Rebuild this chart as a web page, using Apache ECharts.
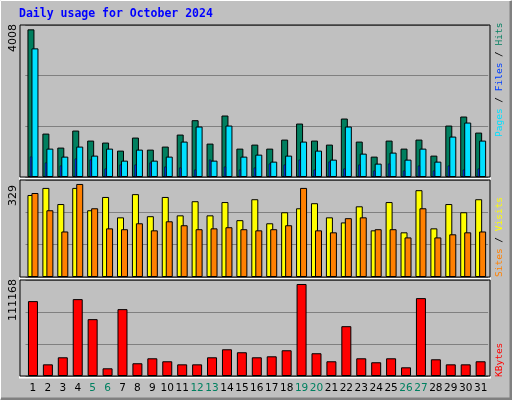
<!DOCTYPE html><html><head><meta charset="utf-8">
<script src="https://cdn.jsdelivr.net/npm/echarts@6/dist/echarts.min.js"></script>
<style>html,body{margin:0;padding:0;background:#c0c0c0}#c{width:512px;height:400px}</style></head><body><div id="c"></div>
<script>
const days = Array.from({length:31},(_,i)=>String(i+1));
const weekendDays = ['5','6','12','13','19','20','26','27'];
const hits = [4006,1178,798,1260,988,934,716,1070,743,825,1151,1541,906,1668,770,879,770,1015,1450,988,879,1586,961,553,988,770,1015,580,1396,1641,1205];
const files = [3490,770,553,825,580,770,444,743,444,553,961,1369,444,1396,553,607,417,580,961,716,471,1369,634,363,662,471,770,417,1097,1477,988];
const pages = [553,390,308,498,471,227,335,335,390,281,254,199,471,281,199,254,363,335,471,199,417,227,335,172,363,172,308,172,308,199,227];
const visits = [290,315,258,315,236,283,211,293,215,283,218,268,218,265,201,275,190,229,243,261,211,193,250,165,265,158,307,172,258,229,275];
const sites = [297,236,161,329,243,172,169,190,165,197,183,169,172,176,169,165,169,183,315,165,158,208,211,169,169,140,243,140,151,158,161];
const kbytes = [90500,14100,22600,92900,68700,9300,80800,15400,21400,17800,14100,14100,22600,32300,28700,22600,23800,31100,111168,27500,17800,60200,21400,16600,21400,10500,94100,20200,14100,14100,17800];
const maxLabels = ['4008','329','111168'];
const M1 = 4124, M2 = 343, M3 = 116000;

const ch = echarts.init(document.getElementById('c'));
const L = 25.5, W = 462.6;
const grids = [{left:L,width:W,top:25,height:152},{left:L,width:W,top:180,height:97},{left:L,width:W,top:280,height:96}];
function xa(g,show){return {type:'category',gridIndex:g,data:days,show:show,boundaryGap:true,
  axisLine:{show:false},axisTick:{show:false},
  axisLabel:{show:show,interval:0,margin:7,fontSize:10.5,fontFamily:'DejaVu Sans',
    color:v=>weekendDays.includes(v)?'#008060':'#000'}};}
function ya(g,M){return {type:'value',gridIndex:g,min:0,max:M,interval:M/3,axisLabel:{show:false},
  axisLine:{show:false},axisTick:{show:false},splitLine:{lineStyle:{color:'#808080',width:1}}};}
const bs = c=>({color:c,borderColor:'#000',borderWidth:1});
const mono = 'DejaVu Sans Mono';
const rf = '9.5px '+mono;
ch.setOption({
  animation:false,backgroundColor:'#c0c0c0',
  grid:grids,
  xAxis:[xa(0,false),xa(0,false),xa(1,false),xa(2,true)],
  yAxis:[ya(0,M1),ya(0,M1),ya(1,M2),ya(2,M3)],
  series:[
    {type:'bar',name:'Hits',xAxisIndex:0,yAxisIndex:0,data:hits,barWidth:7,barGap:'-43%',itemStyle:bs('#007f5f')},
    {type:'bar',name:'Files',xAxisIndex:0,yAxisIndex:0,data:files,barWidth:7,itemStyle:bs('#00e0ff')},
    {type:'bar',name:'Pages',xAxisIndex:1,yAxisIndex:1,data:pages,barWidth:2,barGap:'0%',z:3,itemStyle:{color:'#0040ff',borderColor:'#000',borderWidth:0.5}},
    {type:'bar',name:'dummy',xAxisIndex:1,yAxisIndex:1,data:[],barWidth:4},
    {type:'bar',name:'Visits',xAxisIndex:2,yAxisIndex:2,data:visits,barWidth:7,barGap:'-43%',itemStyle:bs('#ffff00')},
    {type:'bar',name:'Sites',xAxisIndex:2,yAxisIndex:2,data:sites,barWidth:7,itemStyle:bs('#ff8000')},
    {type:'bar',name:'KBytes',xAxisIndex:3,yAxisIndex:3,data:kbytes,barWidth:10,itemStyle:bs('#ff0000')}
  ],
  graphic:[
    {type:'rect',shape:{x:0.5,y:0.5,width:510,height:398},style:{fill:'none',stroke:'#fff',lineWidth:1},silent:true},
    {type:'polyline',shape:{points:[[511,1],[511,399],[1,399]]},style:{stroke:'#808080',lineWidth:3,fill:'none'}},
    {type:'text',left:19,top:8,style:{text:'Daily usage for October 2024',font:'bold 11.5px '+mono,fill:'#0000ff'}},
    {type:'rect',shape:{x:20,y:25,width:470,height:152},style:{fill:'none',stroke:'#000',lineWidth:1},z:10},
    {type:'rect',shape:{x:20,y:180,width:470,height:97},style:{fill:'none',stroke:'#000',lineWidth:1},z:10},
    {type:'rect',shape:{x:20,y:280,width:470,height:96},style:{fill:'none',stroke:'#000',lineWidth:1},z:10},
    {type:'polyline',shape:{points:[[19,178.5],[491,178.5]]},style:{stroke:'#fff',lineWidth:2}},
    {type:'polyline',shape:{points:[[19,278.5],[491,278.5]]},style:{stroke:'#fff',lineWidth:2}},
    {type:'polyline',shape:{points:[[19,377.5],[491,377.5]]},style:{stroke:'#fff',lineWidth:2}},
    {type:'text',x:8,y:52,rotation:Math.PI/2,style:{text:maxLabels[0],font:'11px DejaVu Sans',fill:'#000',align:'left',verticalAlign:'top'}},
    {type:'text',x:8,y:206,rotation:Math.PI/2,style:{text:maxLabels[1],font:'11px DejaVu Sans',fill:'#000',align:'left',verticalAlign:'top'}},
    {type:'text',x:8,y:321,rotation:Math.PI/2,style:{text:maxLabels[2],font:'11px DejaVu Sans',fill:'#000',align:'left',verticalAlign:'top'}},
    {type:'text',x:495,y:137,rotation:Math.PI/2,style:{text:'{p|Pages}{s| / }{f|Files}{s| / }{h|Hits}',font:rf,verticalAlign:'top',
      rich:{p:{fill:'#00e0ff',font:rf},f:{fill:'#0040ff',font:rf},h:{fill:'#007f5f',font:rf},s:{fill:'#000',font:rf}}}},
    {type:'text',x:495,y:277,rotation:Math.PI/2,style:{text:'{o|Sites}{s| / }{y|Visits}',font:rf,verticalAlign:'top',
      rich:{o:{fill:'#ff8000',font:rf},y:{fill:'#ffff00',font:rf},s:{fill:'#000',font:rf}}}},
    {type:'text',x:495,y:377,rotation:Math.PI/2,style:{text:'KBytes',font:rf,fill:'#ff0000',verticalAlign:'top'}}
  ]
});
</script></body></html>
